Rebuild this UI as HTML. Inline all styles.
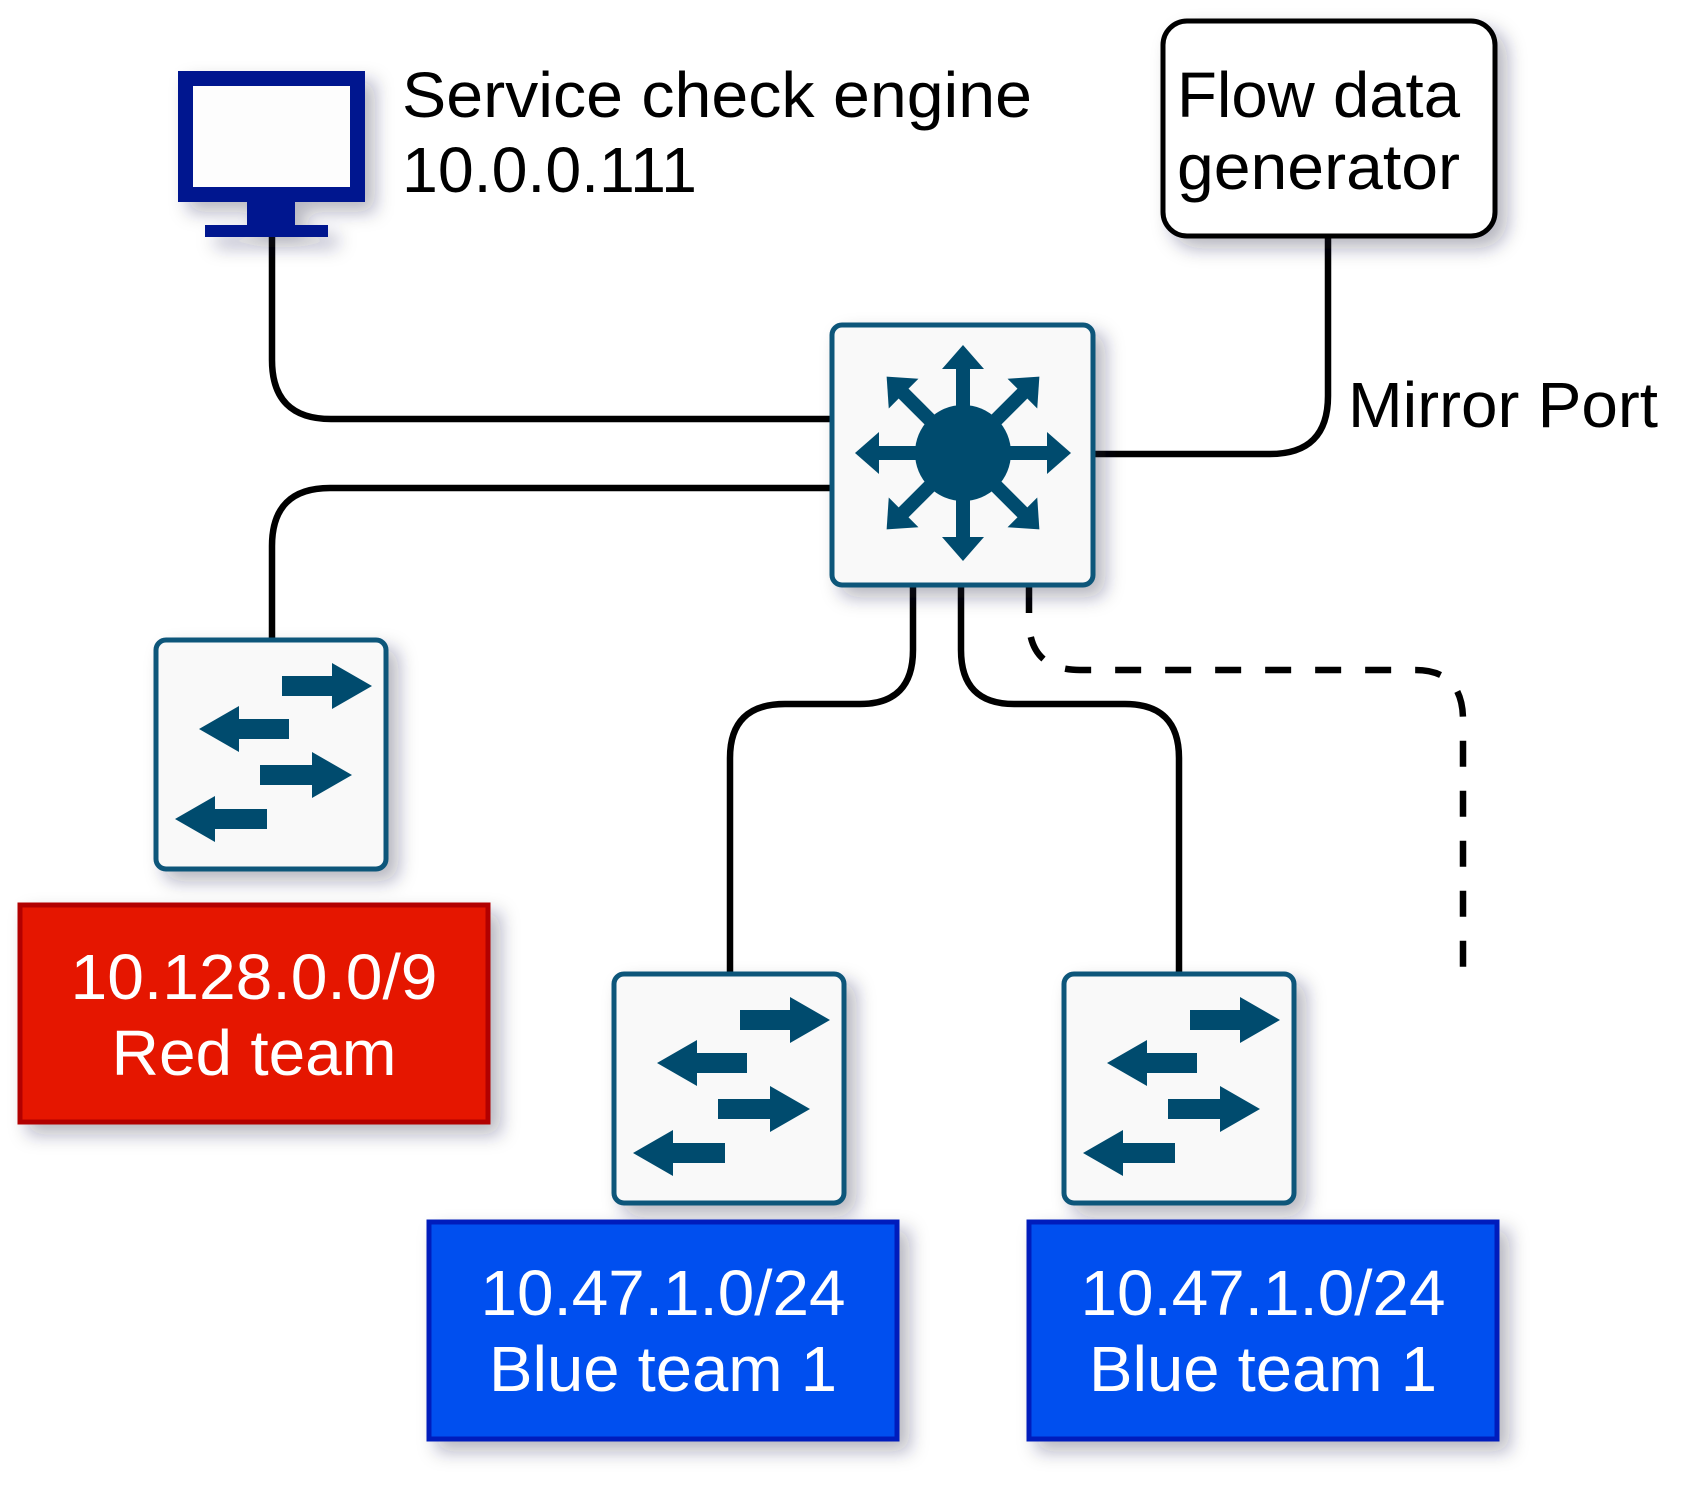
<!DOCTYPE html>
<html><head><meta charset="utf-8"><style>
html,body{margin:0;padding:0;background:#fff}
svg{display:block}
text{font-family:"Liberation Sans",Arial,sans-serif}
</style></head><body>
<svg width="1694" height="1498" viewBox="0 0 1694 1498" xmlns="http://www.w3.org/2000/svg">
<defs>
<filter id="sh" x="-20%" y="-20%" width="150%" height="150%">
<feDropShadow dx="10" dy="10" stdDeviation="9" flood-color="#1a1a40" flood-opacity="0.32"/>
</filter>
<g id="acc">
<rect x="0" y="0" width="230" height="229" rx="10" fill="#f9f9f9" stroke="#10567a" stroke-width="5"/>
<g fill="#004c6e">
<path d="M126 36 H176 V23 L216 46 L176 69 V56 H126 Z"/>
<path d="M133 79 H83 V66 L43 89 L83 112 V99 H133 Z"/>
<path d="M104 125 H156 V112 L196 135 L156 158 V145 H104 Z"/>
<path d="M111 169 H59 V156 L19 179 L59 202 V189 H111 Z"/>
</g>
</g>
<g id="arm"><rect x="-7" y="-88" width="14" height="60"/><path d="M0 -108 L-21 -84 L21 -84 Z"/></g>
</defs>

<g fill="none" stroke="#000" stroke-width="6.5">
<path d="M272 236 V360 Q272 419 331 419 H832"/>
<path d="M832 488 H330 Q272 488 272 546 V640"/>
<path d="M1095 454 H1270 Q1328 454 1328 396 V238"/>
<path d="M913 587 V650 Q913 704 860 704 H785 Q730 704 730 758 V974"/>
<path d="M961 587 V650 Q961 704 1014 704 H1125 Q1179 704 1179 758 V974"/>
<path d="M1029 587 V620 Q1029 670 1080 670 H1415 Q1463 670 1463 720 V985" stroke-dasharray="26 24"/>
</g>

<g filter="url(#sh)">
<rect x="185.5" y="78.5" width="172" height="116" fill="#fdfdfd" stroke="#00188f" stroke-width="15"/>
<rect x="247" y="200" width="48" height="28" fill="#00188f"/>
<rect x="205" y="225" width="123" height="12" fill="#00188f"/>

<rect x="1163" y="21" width="332" height="215" rx="24" fill="#fff" stroke="#000" stroke-width="5"/>

<rect x="832" y="325" width="261" height="260" rx="10" fill="#f9f9f9" stroke="#10567a" stroke-width="5"/>
<g fill="#004c6e" transform="translate(963 453)">
<circle r="48"/>
<use href="#arm"/>
<use href="#arm" transform="rotate(45)"/>
<use href="#arm" transform="rotate(90)"/>
<use href="#arm" transform="rotate(135)"/>
<use href="#arm" transform="rotate(180)"/>
<use href="#arm" transform="rotate(225)"/>
<use href="#arm" transform="rotate(270)"/>
<use href="#arm" transform="rotate(315)"/>
</g>

<use href="#acc" transform="translate(156 640)"/>
<use href="#acc" transform="translate(614 974)"/>
<use href="#acc" transform="translate(1064 974)"/>

<rect x="20" y="905" width="468" height="217" fill="#e51400" stroke="#b20000" stroke-width="5"/>
<rect x="429" y="1222" width="468" height="217" fill="#0050ef" stroke="#001dbc" stroke-width="5"/>
<rect x="1029" y="1222" width="468" height="217" fill="#0050ef" stroke="#001dbc" stroke-width="5"/>
</g>

<g font-size="64" fill="#000">
<text x="402" y="117" textLength="630" lengthAdjust="spacingAndGlyphs">Service check engine</text>
<text x="402" y="192" textLength="295" lengthAdjust="spacingAndGlyphs">10.0.0.111</text>
<text x="1177" y="117" textLength="283" lengthAdjust="spacingAndGlyphs">Flow data</text>
<text x="1177" y="189" textLength="283" lengthAdjust="spacingAndGlyphs">generator</text>
<text x="1348" y="427" textLength="310" lengthAdjust="spacingAndGlyphs">Mirror Port</text>
</g>
<g font-size="64" fill="#fff" text-anchor="middle">
<text x="254" y="999" textLength="367" lengthAdjust="spacingAndGlyphs">10.128.0.0/9</text>
<text x="254" y="1075" textLength="285" lengthAdjust="spacingAndGlyphs">Red team</text>
<text x="663" y="1315" textLength="365" lengthAdjust="spacingAndGlyphs">10.47.1.0/24</text>
<text x="663" y="1391" textLength="348" lengthAdjust="spacingAndGlyphs">Blue team 1</text>
<text x="1263" y="1315" textLength="365" lengthAdjust="spacingAndGlyphs">10.47.1.0/24</text>
<text x="1263" y="1391" textLength="348" lengthAdjust="spacingAndGlyphs">Blue team 1</text>
</g>
</svg>
</body></html>
